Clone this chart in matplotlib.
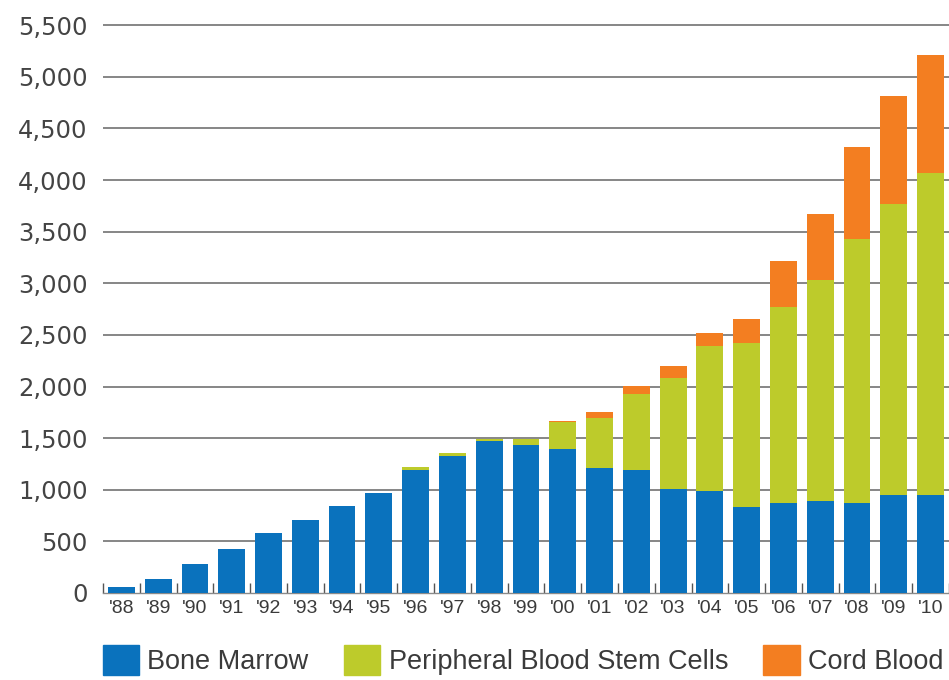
import numpy as np
import matplotlib.pyplot as plt
from matplotlib.ticker import FuncFormatter
from matplotlib.patches import Patch

# transplants per year by graft source
years = ["'88", "'89", "'90", "'91", "'92", "'93", "'94", "'95", "'96", "'97", "'98", "'99",
         "'00", "'01", "'02", "'03", "'04", "'05", "'06", "'07", "'08", "'09", "'10"]
bone_marrow = [55, 140, 285, 425, 580, 705, 845, 970, 1190, 1325, 1470, 1430,
               1390, 1215, 1190, 1010, 985, 830, 875, 890, 875, 945, 945]
pbsc = [0, 0, 0, 0, 0, 0, 0, 0, 30, 30, 20, 65,
        265, 480, 740, 1070, 1410, 1590, 1895, 2145, 2550, 2820, 3120]
cord_blood = [0, 0, 0, 0, 0, 0, 0, 0, 0, 0, 0, 0,
              15, 55, 75, 120, 120, 230, 445, 635, 900, 1050, 1150]

BLUE = '#0a72bd'
GREEN = '#bdcb2b'
ORANGE = '#f37e21'
TXT = '#3a3a3a'

fig = plt.figure(figsize=(9.49, 6.8), dpi=100)
ax = fig.add_axes([0.1085, 0.128, 0.8915, 0.85])

x = np.arange(len(years))
bm = np.array(bone_marrow)
pb = np.array(pbsc)
cb = np.array(cord_blood)
w = 0.73
ax.bar(x, bm, w, color=BLUE, zorder=3)
ax.bar(x, pb, w, bottom=bm, color=GREEN, zorder=3)
ax.bar(x, cb, w, bottom=bm + pb, color=ORANGE, zorder=3)

ax.set_xlim(-0.47, 22.37)
ax.set_ylim(0, 5600)

# horizontal rules every 500
for v in range(500, 5501, 500):
    ax.axhline(v, color='#7d7d7d', lw=1.3, zorder=1)

ax.set_yticks(range(0, 5501, 500))
ax.yaxis.set_major_formatter(FuncFormatter(lambda v, p: f'{int(v):,}'))
ax.tick_params(axis='y', length=0, pad=11, labelsize=17.5, labelcolor='#444444')
for lab in ax.get_yticklabels():
    lab.set_family('DejaVu Sans')

ax.set_xticks(x)
ax.set_xticklabels(years, fontsize=14, color=TXT, family='Liberation Sans')
ax.set_xticks(np.arange(-0.5, len(years), 1.0), minor=True)
ax.tick_params(axis='x', which='major', length=0, pad=5)
ax.tick_params(axis='x', which='minor', direction='in', length=7, width=1, color='#555555')

for s in ['top', 'right', 'left']:
    ax.spines[s].set_visible(False)
ax.spines['bottom'].set_color('#8a8a8a')
ax.spines['bottom'].set_linewidth(1.0)

handles = [Patch(color=BLUE, label='Bone Marrow'),
           Patch(color=GREEN, label='Peripheral Blood Stem Cells'),
           Patch(color=ORANGE, label='Cord Blood')]
leg = fig.legend(handles=handles, loc='upper left', bbox_to_anchor=(0.1082, 0.052),
                 ncol=3, frameon=False, borderpad=0, borderaxespad=0,
                 handlelength=1.35, handleheight=1.35, handletextpad=0.3,
                 columnspacing=1.3, prop={'family': 'Liberation Sans', 'size': 19.5})
for t in leg.get_texts():
    t.set_color(TXT)

fig.savefig('out.png', dpi=100)
